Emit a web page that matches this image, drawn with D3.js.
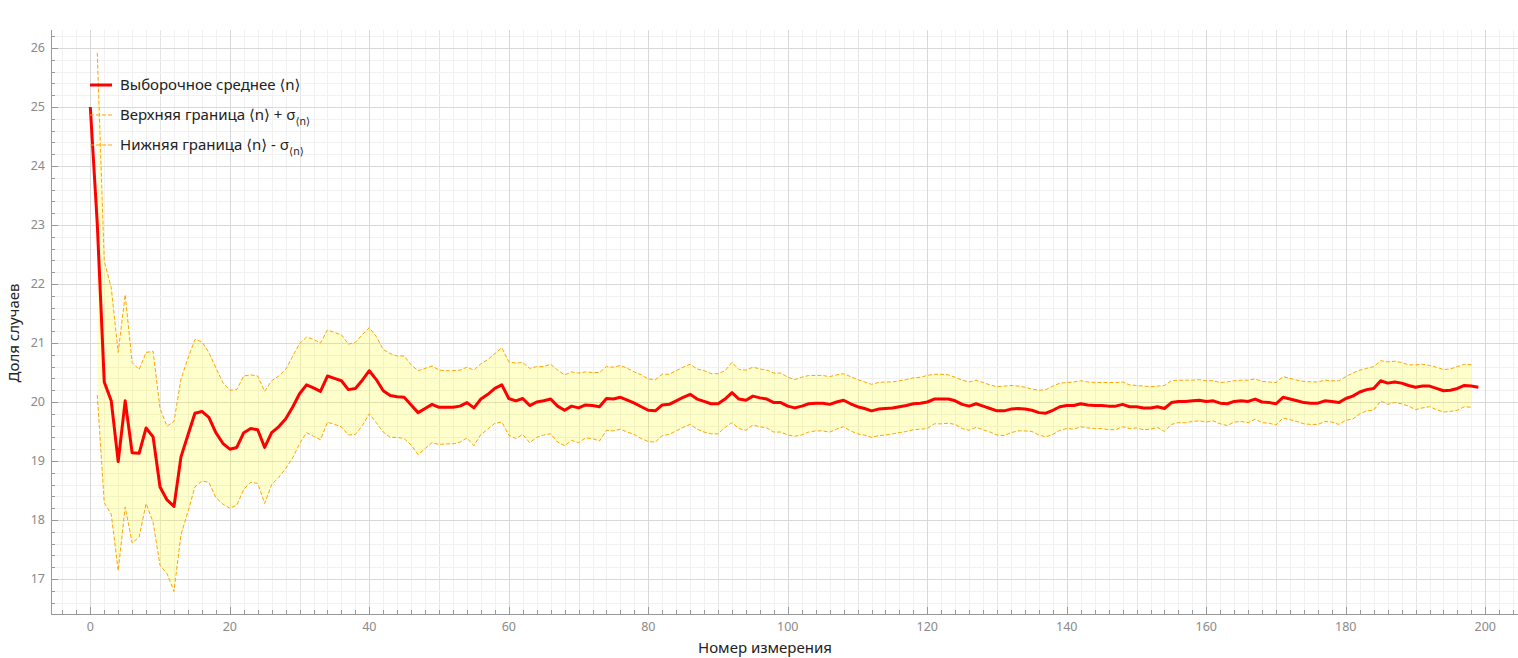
<!DOCTYPE html>
<html>
<head>
<meta charset="utf-8">
<script src="https://cdn.jsdelivr.net/npm/d3@7/dist/d3.min.js"></script>
<style>
  html, body { margin: 0; padding: 0; background: #fff; }
  svg { display: block; font-family: "Noto Sans", "Open Sans", "DejaVu Sans", sans-serif; }
</style>
</head>
<body>
<svg id="chart" width="1518" height="658"></svg>
<script>
// ---- Data ----
// Sample mean <n> for measurement numbers 0..199
const meanValues = [
  25.00, 23.02, 20.34, 20.02, 18.99, 20.02, 19.14, 19.13, 19.56, 19.41,
  18.56, 18.34, 18.23, 19.07, 19.44, 19.81, 19.84, 19.74, 19.48, 19.30,
  19.20, 19.23, 19.48, 19.55, 19.53, 19.23, 19.48, 19.58, 19.71, 19.91,
  20.14, 20.29, 20.24, 20.18, 20.44, 20.40, 20.36, 20.21, 20.23, 20.37,
  20.53, 20.38, 20.19, 20.11, 20.09, 20.08, 19.95, 19.82, 19.89, 19.96,
  19.91, 19.91, 19.91, 19.93, 19.99, 19.90, 20.05, 20.13, 20.23, 20.29,
  20.06, 20.02, 20.06, 19.94, 20.00, 20.02, 20.05, 19.93, 19.86, 19.93,
  19.90, 19.95, 19.94, 19.92, 20.06, 20.05, 20.08, 20.03, 19.98, 19.92,
  19.86, 19.85, 19.95, 19.96, 20.02, 20.08, 20.13, 20.05, 20.01, 19.97,
  19.97, 20.05, 20.16, 20.05, 20.03, 20.10, 20.07, 20.05, 19.99, 19.99,
  19.93, 19.90, 19.93, 19.97, 19.98, 19.98, 19.96, 20.00, 20.03, 19.97,
  19.92, 19.89, 19.85, 19.88, 19.89, 19.90, 19.92, 19.94, 19.97, 19.98,
  20.00, 20.05, 20.05, 20.05, 20.02, 19.96, 19.93, 19.97, 19.93, 19.89,
  19.85, 19.85, 19.88, 19.89, 19.88, 19.86, 19.82, 19.81, 19.86, 19.92,
  19.94, 19.94, 19.97, 19.95, 19.94, 19.94, 19.93, 19.93, 19.96, 19.92,
  19.92, 19.90, 19.90, 19.92, 19.89, 19.99, 20.01, 20.01, 20.02, 20.03,
  20.01, 20.02, 19.98, 19.97, 20.01, 20.02, 20.01, 20.05, 20.00, 19.99,
  19.97, 20.08, 20.05, 20.02, 19.99, 19.98, 19.98, 20.02, 20.01, 19.99,
  20.06, 20.10, 20.17, 20.21, 20.23, 20.36, 20.32, 20.34, 20.32, 20.28,
  20.25, 20.27, 20.27, 20.23, 20.19, 20.20, 20.23, 20.28, 20.27, 20.25
];
// Half-width of the band sigma_<n> (null where the band is not drawn)
const sigmaValues = [
  null, 2.90, 2.05, 1.92, 1.85, 1.80, 1.53, 1.42, 1.28, 1.45,
  1.33, 1.25, 1.44, 1.32, 1.30, 1.25, 1.18, 1.10, 1.10, 1.03,
  1.00, 0.98, 0.96, 0.91, 0.91, 0.95, 0.88, 0.86, 0.84, 0.86,
  0.85, 0.81, 0.82, 0.82, 0.78, 0.78, 0.78, 0.77, 0.78, 0.77,
  0.73, 0.73, 0.70, 0.71, 0.69, 0.70, 0.68, 0.71, 0.68, 0.65,
  0.63, 0.62, 0.62, 0.61, 0.60, 0.64, 0.60, 0.59, 0.59, 0.63,
  0.62, 0.64, 0.61, 0.63, 0.60, 0.58, 0.59, 0.61, 0.60, 0.58,
  0.59, 0.56, 0.56, 0.58, 0.54, 0.54, 0.54, 0.54, 0.53, 0.54,
  0.53, 0.53, 0.52, 0.51, 0.51, 0.51, 0.51, 0.51, 0.52, 0.51,
  0.51, 0.48, 0.51, 0.50, 0.51, 0.49, 0.49, 0.49, 0.50, 0.50,
  0.49, 0.48, 0.49, 0.48, 0.47, 0.47, 0.47, 0.46, 0.45, 0.46,
  0.46, 0.45, 0.45, 0.45, 0.45, 0.44, 0.44, 0.44, 0.44, 0.44,
  0.45, 0.42, 0.42, 0.41, 0.40, 0.41, 0.41, 0.40, 0.40, 0.40,
  0.41, 0.42, 0.40, 0.38, 0.37, 0.36, 0.38, 0.40, 0.41, 0.40,
  0.39, 0.40, 0.39, 0.39, 0.39, 0.39, 0.40, 0.40, 0.38, 0.37,
  0.36, 0.37, 0.36, 0.35, 0.39, 0.37, 0.36, 0.36, 0.35, 0.35,
  0.35, 0.34, 0.35, 0.37, 0.35, 0.35, 0.36, 0.34, 0.35, 0.35,
  0.36, 0.35, 0.35, 0.35, 0.36, 0.36, 0.36, 0.35, 0.35, 0.37,
  0.37, 0.39, 0.37, 0.36, 0.37, 0.34, 0.36, 0.35, 0.35, 0.35,
  0.38, 0.37, 0.35, 0.36, 0.36, 0.36, 0.37, 0.36, 0.36, null
];
const xTickLabels = [0, 20, 40, 60, 80, 100, 120, 140, 160, 180, 200];
const yTickLabels = [17, 18, 19, 20, 21, 22, 23, 24, 25, 26];
const xTitle = "Номер измерения";
const yTitle = "Доля случаев";
const legendLabels = ["Выборочное среднее ⟨n⟩", "Верхняя граница ⟨n⟩ + σ", "Нижняя граница ⟨n⟩ - σ"];

// ---- Layout ----
const W = 1518, H = 658;
const plot = { left: 51, right: 1518, top: 30, bottom: 614 };

const x = d3.scaleLinear().domain([0, 200]).range([90.3, 1485.3]);
const y = d3.scaleLinear().domain([17, 26]).range([579, 48]);
const xMin = x.invert(plot.left), xMax = x.invert(plot.right);
const yMin = y.invert(plot.bottom), yMax = y.invert(plot.top);

const svg = d3.select("#chart");
svg.append("defs").append("clipPath").attr("id", "clip")
  .append("rect").attr("x", plot.left).attr("y", plot.top)
  .attr("width", plot.right - plot.left).attr("height", plot.bottom - plot.top);

const grid = svg.append("g");
// minor grid
const xMinor = d3.range(Math.ceil(xMin / 2) * 2, xMax, 2);
const yMinor = d3.range(Math.ceil(yMin / 0.2) * 0.2, yMax, 0.2);
grid.selectAll(".xm").data(xMinor).join("line")
  .attr("x1", d => Math.round(x(d)) + 0.5).attr("x2", d => Math.round(x(d)) + 0.5)
  .attr("y1", plot.top).attr("y2", plot.bottom)
  .attr("stroke", d => (Math.round(d) % 10 === 0 ? "#e4e4e4" : "#f1f1f1")).attr("stroke-width", 1);
grid.selectAll(".ym").data(yMinor).join("line")
  .attr("y1", d => Math.round(y(d)) + 0.5).attr("y2", d => Math.round(y(d)) + 0.5)
  .attr("x1", plot.left).attr("x2", plot.right)
  .attr("stroke", "#f1f1f1").attr("stroke-width", 1);
// major grid
grid.selectAll(".xM").data(xTickLabels).join("line")
  .attr("x1", d => Math.round(x(d)) + 0.5).attr("x2", d => Math.round(x(d)) + 0.5)
  .attr("y1", plot.top).attr("y2", plot.bottom)
  .attr("stroke", "#d9d9d9").attr("stroke-width", 1);
grid.selectAll(".yM").data(yTickLabels).join("line")
  .attr("y1", d => Math.round(y(d)) + 0.5).attr("y2", d => Math.round(y(d)) + 0.5)
  .attr("x1", plot.left).attr("x2", plot.right)
  .attr("stroke", "#d9d9d9").attr("stroke-width", 1);

// ---- Band ----
const bandData = meanValues.map((m, i) => ({ i, m, s: sigmaValues[i] })).filter(d => d.s != null);
const g = svg.append("g").attr("clip-path", "url(#clip)");
g.append("path").datum(bandData)
  .attr("d", d3.area().x(d => x(d.i)).y0(d => y(d.m - d.s)).y1(d => y(d.m + d.s)))
  .attr("fill", "#ffff00").attr("fill-opacity", 0.2);
const dashColor = "#ffa500";
g.append("path").datum(bandData)
  .attr("d", d3.line().x(d => x(d.i)).y(d => y(d.m + d.s)))
  .attr("fill", "none").attr("stroke", dashColor).attr("stroke-width", 1).attr("stroke-dasharray", "4,2");
g.append("path").datum(bandData)
  .attr("d", d3.line().x(d => x(d.i)).y(d => y(d.m - d.s)))
  .attr("fill", "none").attr("stroke", dashColor).attr("stroke-width", 1).attr("stroke-dasharray", "4,2");
// ---- Mean line ----
g.append("path").datum(meanValues)
  .attr("d", d3.line().x((d, i) => x(i)).y(d => y(d)))
  .attr("fill", "none").attr("stroke", "#ff0000").attr("stroke-width", 3).attr("stroke-linejoin", "round");

// ---- Axes ----
const axisColor = "#999999";
const tickText = "#8a8a8a";
const ax = svg.append("g");
ax.append("line").attr("x1", plot.left + 0.5).attr("x2", plot.left + 0.5)
  .attr("y1", plot.top).attr("y2", plot.bottom + 0.5).attr("stroke", axisColor);
ax.append("line").attr("x1", plot.left).attr("x2", plot.right)
  .attr("y1", plot.bottom + 0.5).attr("y2", plot.bottom + 0.5).attr("stroke", axisColor);
// y ticks (inside)
ax.selectAll(".ytm").data(yMinor).join("line")
  .attr("x1", plot.left).attr("x2", plot.left + 4)
  .attr("y1", d => Math.round(y(d)) + 0.5).attr("y2", d => Math.round(y(d)) + 0.5).attr("stroke", axisColor);
ax.selectAll(".ytM").data(yTickLabels).join("line")
  .attr("x1", plot.left).attr("x2", plot.left + 7)
  .attr("y1", d => Math.round(y(d)) + 0.5).attr("y2", d => Math.round(y(d)) + 0.5).attr("stroke", axisColor);
ax.selectAll(".yl").data(yTickLabels).join("text")
  .attr("x", plot.left - 6).attr("y", d => y(d)).attr("dy", "0.35em")
  .attr("text-anchor", "end").attr("font-size", 12.5).attr("fill", tickText).text(d => d);
// x ticks (inside)
ax.selectAll(".xtm").data(xMinor).join("line")
  .attr("y1", plot.bottom).attr("y2", plot.bottom - 4)
  .attr("x1", d => Math.round(x(d)) + 0.5).attr("x2", d => Math.round(x(d)) + 0.5).attr("stroke", axisColor);
ax.selectAll(".xtM").data(xTickLabels).join("line")
  .attr("y1", plot.bottom).attr("y2", plot.bottom - 7)
  .attr("x1", d => Math.round(x(d)) + 0.5).attr("x2", d => Math.round(x(d)) + 0.5).attr("stroke", axisColor);
ax.selectAll(".xl").data(xTickLabels).join("text")
  .attr("x", d => x(d)).attr("y", plot.bottom + 13).attr("dy", "0.35em")
  .attr("text-anchor", "middle").attr("font-size", 12.5).attr("fill", tickText).text(d => d);

// titles
svg.append("text").attr("x", 765).attr("y", 648).attr("dy", "0.35em")
  .attr("text-anchor", "middle").attr("font-size", 15).attr("fill", "#222").text(xTitle);
svg.append("text").attr("transform", "translate(14,333) rotate(-90)").attr("dy", "0.35em")
  .attr("text-anchor", "middle").attr("font-size", 15).attr("fill", "#222").text(yTitle);

// ---- Legend ----
const leg = svg.append("g").attr("transform", "translate(90,85)");
const legendStyles = [
  { stroke: "#ff0000", width: 3, dash: null, sub: false },
  { stroke: dashColor, width: 1, dash: "4,2", sub: true },
  { stroke: dashColor, width: 1, dash: "4,2", sub: true }
];
legendLabels.forEach((lab, k) => {
  const row = leg.append("g").attr("transform", `translate(0,${k * 30})`);
  row.append("line").attr("x1", 0).attr("x2", 22).attr("y1", 0).attr("y2", 0)
    .attr("stroke", legendStyles[k].stroke).attr("stroke-width", legendStyles[k].width)
    .attr("stroke-dasharray", legendStyles[k].dash);
  const t = row.append("text").attr("x", 30).attr("y", 0).attr("dy", "0.35em")
    .attr("font-size", 15).attr("fill", "#222").text(lab);
  if (legendStyles[k].sub) {
    t.append("tspan").attr("font-size", 10.5).attr("dy", "0.45em").text("⟨n⟩");
  }
});
</script>
</body>
</html>
